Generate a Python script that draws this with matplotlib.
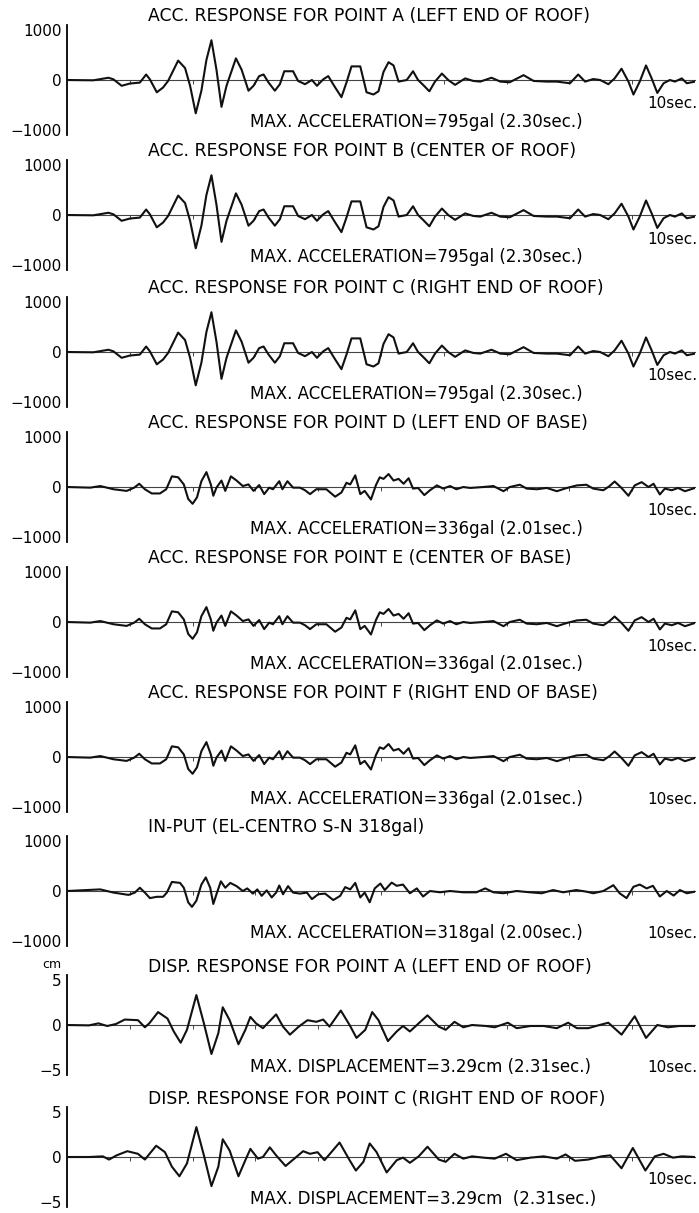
import numpy as np
import matplotlib
matplotlib.use("Agg")
import matplotlib.pyplot as plt

plt.rcParams['font.family'] = ['DejaVu Sans']

# acceleration of roof points (gal) (B and C look the same)
roof_t = [0.0, 0.42, 0.66, 0.74, 0.87, 1.00, 1.16, 1.26, 1.32, 1.43, 1.53, 1.61, 1.77, 1.88, 1.96,
          2.05, 2.14, 2.22, 2.30, 2.38, 2.46, 2.54, 2.69, 2.78, 2.89, 2.97, 3.06, 3.13, 3.21, 3.31,
          3.39, 3.46, 3.60, 3.68, 3.79, 3.90, 3.98, 4.08, 4.16, 4.27, 4.37, 4.45, 4.53, 4.67, 4.77,
          4.88, 4.96, 5.04, 5.12, 5.20, 5.28, 5.41, 5.51, 5.59, 5.67, 5.77, 5.86, 5.97, 6.07, 6.18,
          6.34, 6.47, 6.58, 6.76, 6.90, 7.05, 7.27, 7.43, 7.64, 7.80, 8.01, 8.14, 8.25, 8.38, 8.49,
          8.62, 8.72, 8.83, 8.94, 9.02, 9.12, 9.22, 9.31, 9.40, 9.50, 9.60, 9.68, 9.79, 9.87, 10.0]
roof_acc = [0, -6, 45, 13, -116, -71, -52, 110, 13, -246, -150, -19, 388, 239, -116,
            -666, -214, 401, 795, 207, -537, -116, 433, 207, -214, -116, 78, 110, -52, -214,
            -84, 175, 175, -19, -84, 0, -116, 13, 78, -149, -343, -52, 272, 272, -246,
            -290, -226, 162, 356, 291, -32, 0, 175, 0, -97, -226, -32, 129, 0, -97,
            32, -19, -32, 45, -32, -45, 97, -19, -32, -32, -65, 110, -32, 19, 0,
            -84, 32, 226, -32, -291, -32, 291, 32, -259, -65, 0, -32, 32, -65, -32]

# acceleration of base points (gal) (E and F look the same)
base_t = [0.0, 0.37, 0.53, 0.74, 0.95, 1.07, 1.15, 1.24, 1.35, 1.48, 1.58, 1.67, 1.77, 1.86, 1.93,
          2.00, 2.07, 2.14, 2.22, 2.29, 2.33, 2.38, 2.46, 2.52, 2.61, 2.70, 2.80, 2.89, 2.97, 3.06,
          3.14, 3.22, 3.28, 3.38, 3.43, 3.51, 3.60, 3.71, 3.79, 3.87, 3.97, 4.13, 4.27, 4.37, 4.45,
          4.51, 4.59, 4.67, 4.74, 4.84, 4.92, 4.98, 5.04, 5.12, 5.20, 5.28, 5.36, 5.44, 5.51, 5.59,
          5.69, 5.78, 5.89, 5.99, 6.10, 6.20, 6.31, 6.42, 6.63, 6.79, 6.95, 7.05, 7.21, 7.32, 7.48,
          7.64, 7.80, 7.96, 8.12, 8.27, 8.38, 8.54, 8.64, 8.72, 8.83, 8.94, 9.04, 9.15, 9.26, 9.34,
          9.44, 9.52, 9.63, 9.73, 9.84, 10.0]
base_acc = [0, -13, 19, -45, -78, -13, 65, -45, -129, -129, -45, 213, 194, 52, -239,
            -336, -207, 116, 298, 52, -175, -13, 129, -78, 213, 129, 19, 52, -78, 39,
            -142, -13, -45, 116, -45, 116, -13, -13, -65, -142, -45, -45, -194, -110, 84,
            52, 233, -142, -78, -250, 40, 194, 162, 259, 129, 162, 65, 175, -32, -19,
            -162, -65, 32, -32, 19, -45, 0, -19, 0, 19, -84, 0, 45, -32, -45,
            -19, -84, -19, 32, 45, -32, -65, 19, 110, -19, -175, 32, 97, 0, 65,
            -149, -32, -65, -19, -84, -19]

# input motion, El-Centro S-N (gal)
input_t = [0.0, 0.53, 0.74, 0.98, 1.08, 1.16, 1.24, 1.32, 1.43, 1.53, 1.59, 1.67, 1.80, 1.86, 1.93,
           1.99, 2.06, 2.14, 2.21, 2.28, 2.33, 2.38, 2.45, 2.52, 2.60, 2.70, 2.80, 2.87, 2.96, 3.03,
           3.10, 3.18, 3.26, 3.33, 3.38, 3.44, 3.52, 3.60, 3.71, 3.82, 3.90, 4.00, 4.11, 4.24, 4.35,
           4.43, 4.51, 4.59, 4.67, 4.74, 4.82, 4.90, 4.99, 5.06, 5.17, 5.25, 5.35, 5.46, 5.57, 5.67,
           5.78, 5.94, 6.10, 6.31, 6.52, 6.66, 6.79, 6.95, 7.16, 7.37, 7.56, 7.74, 7.90, 8.11, 8.27,
           8.38, 8.54, 8.70, 8.80, 8.91, 9.02, 9.12, 9.23, 9.33, 9.44, 9.55, 9.66, 9.76, 9.87, 10.0]
input_acc = [0, 32, -32, -78, -32, 65, -32, -142, -116, -116, -32, 181, 162, 65, -226,
             -318, -194, 129, 272, 65, -259, -65, 194, 65, 162, 97, 0, 52, -52, 32,
             -97, 13, -129, -32, 110, -65, 97, -32, -52, -32, -162, -65, -52, -181, -97,
             78, 32, 162, -129, -32, -226, 52, 149, 19, 168, 104, 129, -45, 52, -110,
             0, -26, 0, -26, -26, 52, -26, -45, 0, -26, -45, 19, -26, 19, -13,
             -45, 0, 116, -45, -142, 84, 129, 52, 104, -110, 0, -91, 19, -45, -13]

# displacement of point A (cm)
dispA_t = [0, 0.35, 0.50, 0.64, 0.78, 0.92, 1.13, 1.24, 1.31, 1.45, 1.60, 1.70, 1.81, 1.91, 2.06,
           2.18, 2.30, 2.41, 2.48, 2.59, 2.73, 2.84, 2.92, 3.01, 3.12, 3.33, 3.44, 3.55, 3.69, 3.83,
           3.97, 4.08, 4.18, 4.36, 4.50, 4.61, 4.75, 4.86, 4.96, 5.11, 5.25, 5.35, 5.46, 5.60, 5.74,
           5.92, 6.03, 6.17, 6.31, 6.45, 6.67, 6.81, 7.02, 7.16, 7.38, 7.59, 7.80, 7.98, 8.12, 8.30,
           8.48, 8.62, 8.83, 9.04, 9.22, 9.40, 9.57, 9.75, 10.0]
dispA = [0, -0.04, 0.18, -0.11, 0.11, 0.60, 0.53, -0.25, 0.18, 1.42, 0.71, -0.71, -1.95, -0.53, 3.29,
         0.18, -3.19, -0.89, 1.95, 0.53, -2.12, -0.53, 0.89, 0.18, -0.35, 1.17, -0.18, -1.06, -0.18, 0.53,
         0.35, 0.60, -0.18, 1.59, 0, -1.42, -0.53, 1.42, 0.53, -1.77, -0.71, -0.11, -0.71, 0.18, 1.06,
         -0.18, -0.53, 0.35, -0.25, 0, -0.11, -0.25, 0.25, -0.35, -0.11, -0.11, -0.35, 0.25, -0.35, -0.35,
         0, 0.25, -1.06, 0.96, -1.42, 0, -0.25, -0.11, -0.11]

# displacement of point C (cm)
dispC_t = [0, 0.35, 0.57, 0.67, 0.79, 0.96, 1.13, 1.24, 1.42, 1.56, 1.67, 1.79, 1.91, 2.06, 2.18,
           2.30, 2.41, 2.48, 2.59, 2.73, 2.84, 2.92, 3.04, 3.12, 3.23, 3.33, 3.48, 3.62, 3.76, 3.87,
           3.99, 4.10, 4.34, 4.50, 4.60, 4.72, 4.82, 4.93, 5.09, 5.25, 5.35, 5.46, 5.60, 5.74, 5.92,
           6.03, 6.17, 6.31, 6.45, 6.63, 6.81, 6.99, 7.16, 7.38, 7.59, 7.80, 7.94, 8.09, 8.30, 8.51,
           8.65, 8.83, 9.01, 9.21, 9.36, 9.50, 9.65, 9.79, 10.0]
dispC = [0, 0, 0.07, -0.28, 0.18, 0.64, 0.35, -0.28, 1.24, 0.53, -1.06, -2.12, -0.71, 3.29, 0.18,
         -3.2, -1.06, 1.95, 0.71, -2.12, -0.35, 0.89, -0.18, 0, 1.06, 0.18, -0.99, -0.18, 0.64, 0.35,
         0.53, -0.35, 1.59, -0.35, -1.49, -0.53, 1.49, 0.53, -1.70, -0.35, -0.07, -0.64, 0.07, 1.13, -0.28,
         -0.53, 0.35, -0.18, 0.07, -0.07, -0.18, 0.35, -0.35, -0.07, 0.07, -0.18, 0.28, -0.42, -0.28, 0.07,
         0.18, -1.24, 0.99, -1.49, 0.07, 0.35, -0.07, 0.07, 0]

titles = ["ACC. RESPONSE FOR POINT A (LEFT END OF ROOF)",
          "ACC. RESPONSE FOR POINT B (CENTER OF ROOF)",
          "ACC. RESPONSE FOR POINT C (RIGHT END OF ROOF)",
          "ACC. RESPONSE FOR POINT D (LEFT END OF BASE)",
          "ACC. RESPONSE FOR POINT E (CENTER OF BASE)",
          "ACC. RESPONSE FOR POINT F (RIGHT END OF BASE)",
          "IN-PUT (EL-CENTRO S-N 318gal)",
          "DISP. RESPONSE FOR POINT A (LEFT END OF ROOF)",
          "DISP. RESPONSE FOR POINT C (RIGHT END OF ROOF)"]
max_labels = ["MAX. ACCELERATION=795gal (2.30sec.)",
              "MAX. ACCELERATION=795gal (2.30sec.)",
              "MAX. ACCELERATION=795gal (2.30sec.)",
              "MAX. ACCELERATION=336gal (2.01sec.)",
              "MAX. ACCELERATION=336gal (2.01sec.)",
              "MAX. ACCELERATION=336gal (2.01sec.)",
              "MAX. ACCELERATION=318gal (2.00sec.)",
              "MAX. DISPLACEMENT=3.29cm (2.31sec.)",
              "MAX. DISPLACEMENT=3.29cm  (2.31sec.)"]
series = [(roof_t, roof_acc), (roof_t, roof_acc), (roof_t, roof_acc),
          (base_t, base_acc), (base_t, base_acc), (base_t, base_acc),
          (input_t, input_acc), (dispA_t, dispA), (dispC_t, dispC)]

W, H = 699, 1213
fig = plt.figure(figsize=(W / 100, H / 100), dpi=100)
fig.patch.set_facecolor('white')

zero_y = [80, 215, 352, 487, 622, 757, 891, 1025, 1157]
sec_dy = [24, 24, 24, 24, 24, 42, 42, 42, 22]   # "10sec." offset below zero line
x0, x1 = 67, 695

for i, (t, v) in enumerate(series):
    disp = i >= 7
    lim = 5.5 if disp else 1100
    h = 100 if disp else 110
    y0 = zero_y[i]
    ax = fig.add_axes([x0 / W, 1 - (y0 + h / 2) / H, (x1 - x0) / W, h / H])
    ax.set_facecolor('none')
    ax.plot(t, v, color='#111111', lw=1.5, solid_joinstyle='round', zorder=3)
    ax.set_xlim(0, 10)
    ax.set_ylim(-lim, lim)
    for s in ['top', 'right']:
        ax.spines[s].set_visible(False)
    ax.spines['left'].set_linewidth(1.3)
    ax.spines['bottom'].set_position(('data', 0))
    ax.spines['bottom'].set_color('#444444')
    ax.spines['bottom'].set_linewidth(0.8)
    ax.set_xticks(np.arange(1, 10))
    ax.tick_params(axis='x', direction='out', length=3, width=0.7, colors='#444444',
                   labelbottom=False)
    if disp:
        ax.set_yticks([-5, 0, 5])
        ax.set_yticklabels(['\u22125', '0', '5'])
    else:
        ax.set_yticks([-1000, 0, 1000])
        ax.set_yticklabels(['\u22121000', '0', '1000'])
    ax.tick_params(axis='y', length=0, pad=4, labelsize=11)

    fig.text(148 / W, 1 - (y0 - 58 if disp else y0 - 64) / H, titles[i],
             fontsize=12.4, ha='left', va='center')
    fig.text(250 / W, 1 - (y0 + 42) / H, max_labels[i], fontsize=12, ha='left', va='center')
    fig.text(697 / W, 1 - (y0 + sec_dy[i]) / H, "10sec.", fontsize=11, ha='right', va='center')
    if i == 7:
        fig.text(52 / W, 1 - (y0 - 60) / H, "cm", fontsize=9, ha='center', va='center')

fig.savefig("out.png", dpi=100)
